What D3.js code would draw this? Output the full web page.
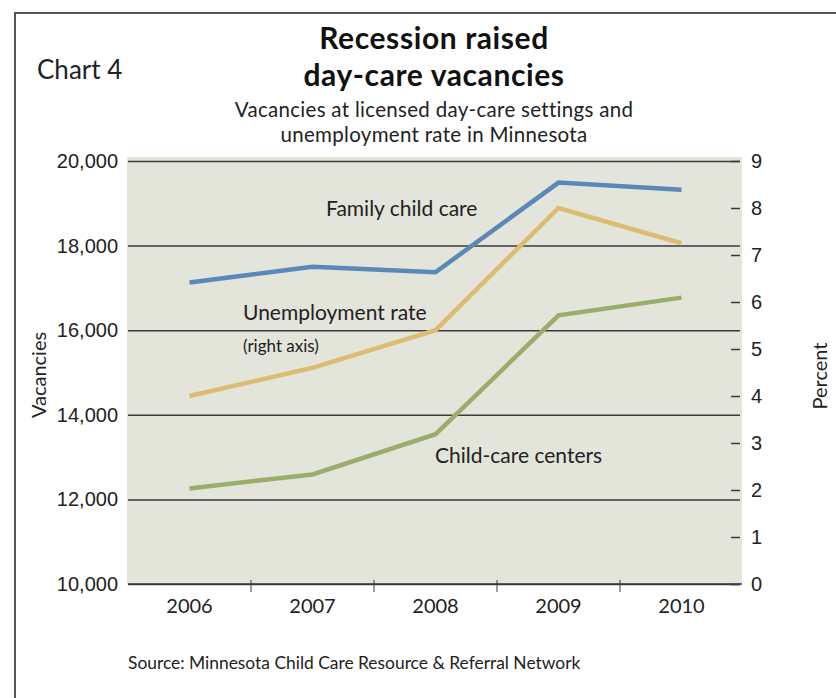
<!DOCTYPE html>
<html>
<head>
<meta charset="utf-8">
<script src="https://cdn.jsdelivr.net/npm/d3@7"></script>
<style>
  body { margin: 0; background: #fff; }
  svg { display: block; font-family: Lato, "Open Sans", sans-serif; }
</style>
</head>
<body>
<svg width="836" height="698"></svg>
<script>
// data
const years = ["2006", "2007", "2008", "2009", "2010"];
const familyCare = [17130, 17500, 17370, 19490, 19320];
const centers = [12260, 12590, 13540, 16350, 16770];
const unemployment = [4.0, 4.6, 5.4, 8.0, 7.25];
const leftTicks = [10000, 12000, 14000, 16000, 18000, 20000];
const rightTicks = [0, 1, 2, 3, 4, 5, 6, 7, 8, 9];
const titleLines = ["Recession raised", "day-care vacancies"];
const subtitleLines = ["Vacancies at licensed day-care settings and", "unemployment rate in Minnesota"];

const svg = d3.select("svg");

const margin = ({ top: 161, right: 96, bottom: 114, left: 128 });

// outer frame (runs off the right and bottom edges)
svg.append("rect")
  .attr("x", 15).attr("y", 13)
  .attr("width", 840).attr("height", 720)
  .attr("fill", "none")
  .attr("stroke", "#555")
  .attr("stroke-width", 2);

const x = d3.scaleBand()
  .domain(years)
  .range([margin.left, 743]);

const y = d3.scaleLinear()
  .domain([10000, 20000])
  .range([584, margin.top]);

const y2 = d3.scaleLinear()
  .domain([0, 9])
  .range([584, margin.top]);

// plot background
svg.append("rect")
  .attr("x", 127).attr("y", 157)
  .attr("width", 742 - 127).attr("height", 584 - 157)
  .attr("fill", "#e3e4da");

// left axis with full gridlines
svg.append("g")
  .attr("transform", `translate(${margin.left},0)`)
  .call(d3.axisRight(y).tickValues(leftTicks).tickSize(740 - margin.left).tickFormat(d3.format(",")))
  .call(g => g.select(".domain").remove())
  .call(g => g.selectAll(".tick line").attr("stroke", "#3a3a3a").attr("stroke-width", 1.5))
  .call(g => g.selectAll(".tick text")
    .attr("x", -10)
    .attr("text-anchor", "end")
    .attr("fill", "#222")
    .attr("font-size", 20));

// right axis short ticks
svg.append("g")
  .attr("transform", `translate(740,0)`)
  .call(d3.axisRight(y2).tickValues(rightTicks).tickSize(0))
  .call(g => g.select(".domain").remove())
  .call(g => g.selectAll(".tick").append("line")
    .attr("x1", -9).attr("x2", 0)
    .attr("stroke", "#3a3a3a").attr("stroke-width", 1.5))
  .call(g => g.selectAll(".tick text")
    .attr("x", 11)
    .attr("text-anchor", "start")
    .attr("fill", "#222")
    .attr("font-size", 20));

// bottom axis
svg.append("line")
  .attr("x1", margin.left).attr("x2", 742)
  .attr("y1", 584).attr("y2", 584)
  .attr("stroke", "#3a3a3a").attr("stroke-width", 1.5);

svg.append("g")
  .selectAll("line")
  .data(years.slice(1))
  .join("line")
  .attr("x1", d => x(d)).attr("x2", d => x(d))
  .attr("y1", 580).attr("y2", 592)
  .attr("stroke", "#3a3a3a").attr("stroke-width", 1);

svg.append("g")
  .selectAll("text")
  .data(years)
  .join("text")
  .attr("x", d => x(d) + x.bandwidth() / 2)
  .attr("y", 613)
  .attr("text-anchor", "middle")
  .attr("fill", "#222")
  .attr("font-size", 20)
  .text(d => d);

// series lines
const cx = d => x(d) + x.bandwidth() / 2;

const leftLine = d3.line()
  .x((d, i) => cx(years[i]))
  .y(d => y(d));

const rightLine = d3.line()
  .x((d, i) => cx(years[i]))
  .y(d => y2(d));

svg.append("path")
  .datum(centers)
  .attr("d", leftLine)
  .attr("fill", "none")
  .attr("stroke", "#9bad6b")
  .attr("stroke-width", 4.5);

svg.append("path")
  .datum(unemployment)
  .attr("d", rightLine)
  .attr("fill", "none")
  .attr("stroke", "#dcbc72")
  .attr("stroke-width", 4.5);

svg.append("path")
  .datum(familyCare)
  .attr("d", leftLine)
  .attr("fill", "none")
  .attr("stroke", "#5b88b6")
  .attr("stroke-width", 4.5);

// series labels
const labels = svg.append("g").attr("fill", "#222");
labels.append("text").attr("x", 326).attr("y", 216).attr("font-size", 21).text("Family child care");
labels.append("text").attr("x", 243).attr("y", 320).attr("font-size", 21).text("Unemployment rate");
labels.append("text").attr("x", 243).attr("y", 352).attr("font-size", 17).text("(right axis)");
labels.append("text").attr("x", 435).attr("y", 463).attr("font-size", 21).text("Child-care centers");

// axis titles
svg.append("text")
  .attr("transform", "translate(46,375) rotate(-90)")
  .attr("text-anchor", "middle")
  .attr("fill", "#222")
  .attr("font-size", 20)
  .text("Vacancies");

svg.append("text")
  .attr("transform", "translate(827,376) rotate(-90)")
  .attr("text-anchor", "middle")
  .attr("fill", "#222")
  .attr("font-size", 20)
  .text("Percent");

// titles
svg.append("text")
  .attr("x", 37).attr("y", 79)
  .attr("fill", "#222")
  .attr("font-size", 26)
  .text("Chart 4");

svg.selectAll(".title")
  .data(titleLines)
  .join("text")
  .attr("class", "title")
  .attr("x", 434)
  .attr("y", (d, i) => 49 + i * 37)
  .attr("text-anchor", "middle")
  .attr("fill", "#111")
  .attr("font-size", 30)
  .attr("letter-spacing", 0.6)
  .attr("font-weight", "bold")
  .text(d => d);

svg.selectAll(".subtitle")
  .data(subtitleLines)
  .join("text")
  .attr("class", "subtitle")
  .attr("x", 434)
  .attr("y", (d, i) => 117 + i * 25)
  .attr("text-anchor", "middle")
  .attr("fill", "#222")
  .attr("font-size", 20.5)
  .attr("letter-spacing", 0.3)
  .text(d => d);

// source
svg.append("text")
  .attr("x", 128).attr("y", 669)
  .attr("fill", "#222")
  .attr("font-size", 17.4)
  .text("Source: Minnesota Child Care Resource & Referral Network");
</script>
</body>
</html>
